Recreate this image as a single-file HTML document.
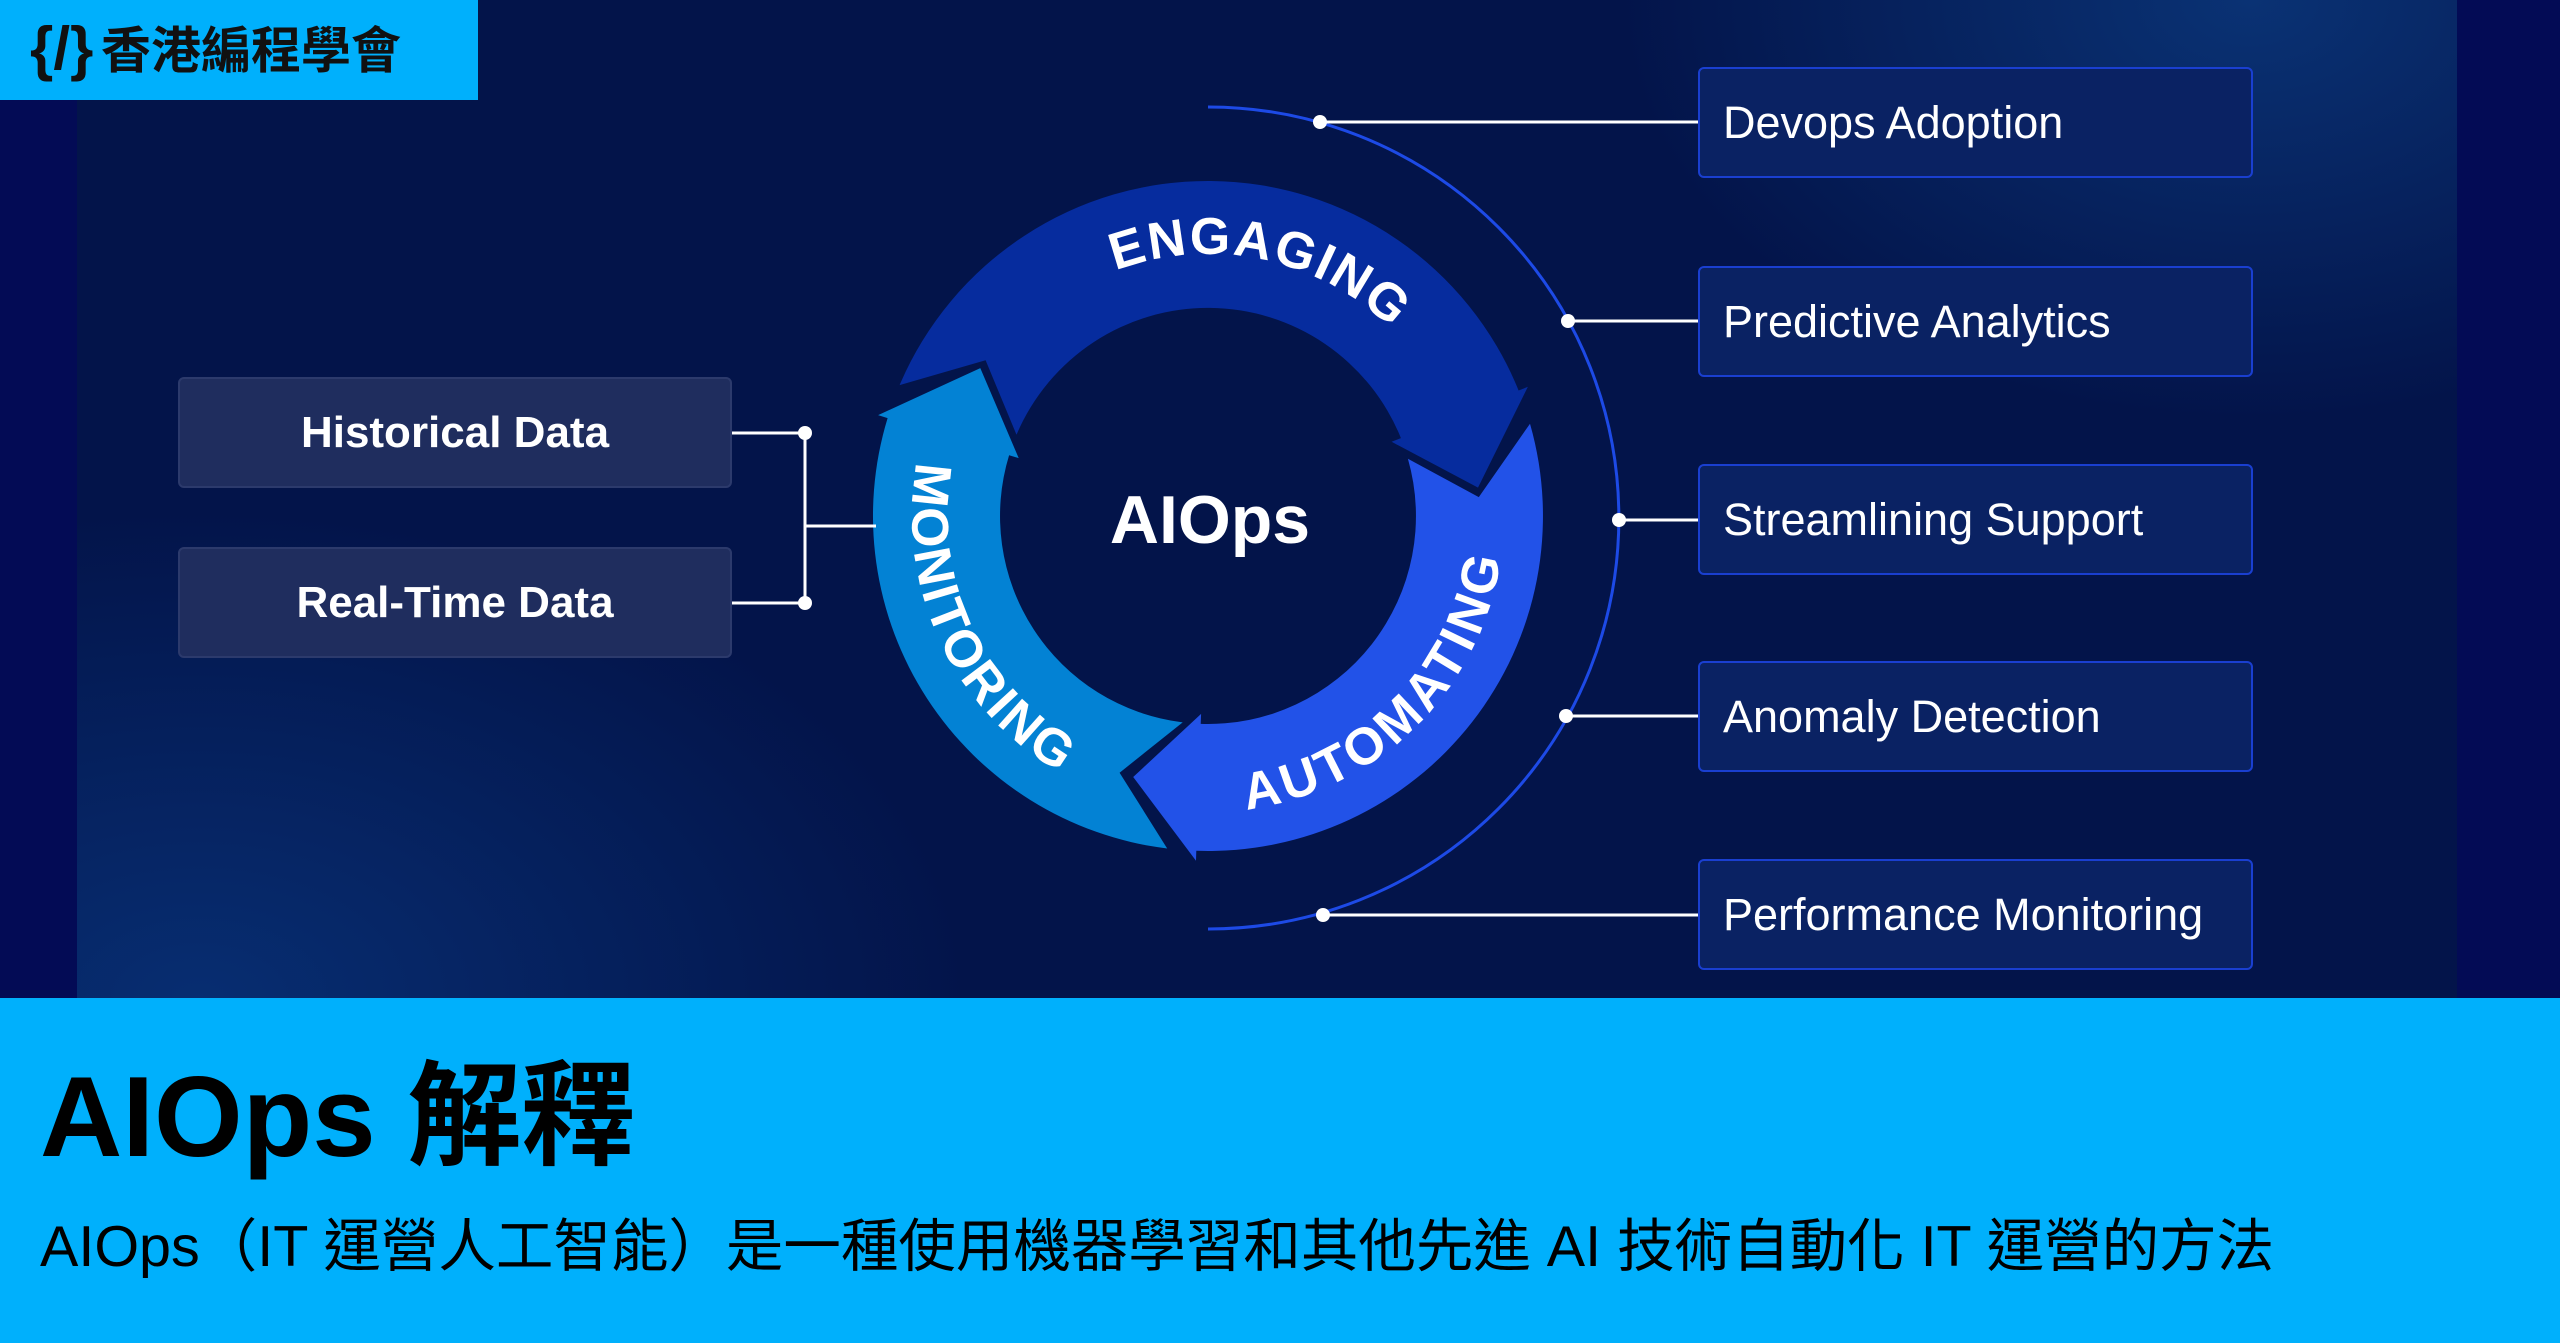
<!DOCTYPE html>
<html><head><meta charset="utf-8"><style>
html,body{margin:0;padding:0;}
body{width:2560px;height:1343px;position:relative;overflow:hidden;background:#03124a;font-family:"Liberation Sans","Noto Sans CJK TC",sans-serif;}
#main{position:absolute;left:0;top:0;width:2560px;height:998px;
background:
radial-gradient(ellipse 900px 600px at 2250px 0px, rgba(12,60,130,0.75), rgba(12,60,130,0) 70%),
radial-gradient(ellipse 1100px 700px at 200px 1000px, rgba(8,50,120,0.85), rgba(8,50,120,0) 70%),
#03144a;}
.strip{position:absolute;top:0;height:998px;background:#030b55;}
.lbox{position:absolute;left:178px;width:554px;height:111px;background:#1f2d5e;border:2px solid #2c3a6c;border-radius:6px;box-sizing:border-box;color:#fff;font-weight:bold;font-size:44px;text-align:center;line-height:107px;}
.rbox{position:absolute;left:1698px;width:555px;height:111px;background:#0a2263;border:2px solid #1a3fd0;border-radius:6px;box-sizing:border-box;color:#fff;font-size:45px;line-height:107px;padding-left:23px;}
#band{position:absolute;left:0;top:998px;width:2560px;height:345px;background:#00b0fc;}
</style></head><body>
<div id="main"></div>
<div class="strip" style="left:0;width:77px"></div>
<div class="strip" style="left:2457px;width:103px"></div>

<svg id="svg" width="2560" height="998" style="position:absolute;left:0;top:0">
<g id="rings"></g>
<g stroke="#fff" stroke-width="3" fill="none">
<path d="M732 433 H805 V603 H732 M805 526 H876"/>
<path d="M1320 122 H1698 M1568 321 H1698 M1619 520 H1698 M1566 716 H1698 M1323 915 H1698"/>
</g>
<g fill="#fff">
<circle cx="805" cy="433" r="7"/><circle cx="805" cy="603" r="7"/>
<circle cx="1320" cy="122" r="7"/><circle cx="1568" cy="321" r="7"/><circle cx="1619" cy="520" r="7"/><circle cx="1566" cy="716" r="7"/><circle cx="1323" cy="915" r="7"/>
</g>
<text x="1210" y="543" fill="#fff" font-family="Liberation Sans" font-weight="bold" font-size="68" text-anchor="middle">AIOps</text>
</svg>

<div class="lbox" style="top:377px">Historical Data</div>
<div class="lbox" style="top:547px">Real-Time Data</div>
<div class="rbox" style="top:67px">Devops Adoption</div>
<div class="rbox" style="top:266px">Predictive Analytics</div>
<div class="rbox" style="top:464px">Streamlining Support</div>
<div class="rbox" style="top:661px">Anomaly Detection</div>
<div class="rbox" style="top:859px">Performance Monitoring</div>

<div style="position:absolute;left:0;top:0;width:478px;height:100px;background:#00b0fc;"></div>
<div style="position:absolute;left:30px;top:14px;font-family:'Liberation Sans',sans-serif;font-weight:bold;font-size:60px;line-height:70px;color:#111;">{/}</div>
<div style="position:absolute;left:101px;top:22px;font-family:'Liberation Sans','Noto Sans CJK TC',sans-serif;font-weight:bold;font-size:50px;line-height:58px;color:#111;">香港編程學會</div>

<div id="band"></div>
<div style="position:absolute;left:40px;top:1048px;font-weight:bold;font-size:114px;line-height:140px;color:#000;white-space:nowrap;">AIOps 解釋</div>
<div style="position:absolute;left:40px;top:1212px;font-size:57.5px;line-height:70px;color:#000;white-space:nowrap;">AIOps（IT 運營人工智能）是一種使用機器學習和其他先進 AI 技術自動化 IT 運營的方法</div>

<script>
var cx=1208,cy=516,ri=208,ro=335,rm=(ri+ro)/2;
function P(a,r){var t=a*Math.PI/180;return [(cx+r*Math.sin(t)).toFixed(1),(cy-r*Math.cos(t)).toFixed(1)];}
function arr(T,H,tip,col){
  var o0=P(T,ro),o1=P(H,ro),i1=P(H,ri),i0=P(T,ri);
  var large=((H-T+360)%360)>180?1:0;
  var d='M'+o0+' A'+ro+' '+ro+' 0 '+large+' 1 '+o1+
   ' L'+P(H,ro+10)+' L'+P(tip,rm)+' L'+P(H,ri-10)+' L'+i1+
   ' A'+ri+' '+ri+' 0 '+large+' 0 '+i0+' L'+P(T+12,rm)+' Z';
  return '<path d="'+d+'" fill="'+col+'"/>';
}
function arc(a0,a1,r,cw,id){
  var span=Math.abs(a1-a0);
  return '<path id="'+id+'" d="M'+P(a0,r)+' A'+r+' '+r+' 0 '+(span>180?1:0)+' '+(cw?1:0)+' '+P(a1,r)+'" fill="none"/>';
}
var s='';
s+='<path d="M'+P(0,411)+' A411 411 0 0 1 '+P(180,411)+'" transform="translate(0,2)" fill="none" stroke="#1d4ae6" stroke-width="3"/>';
s+=arr(-67,68,84,'#062c9e');
s+=arr(74,182,196,'#2252e8');
s+=arr(187,287,303,'#0382d4');
s+='<defs>'+arc(-60,84,262,true,'pe')+arc(210,60,296,false,'pa')+arc(320,170,296,false,'pm')+'</defs>';
var ts='fill="#fff" font-family="Liberation Sans" font-weight="bold" font-size="52"';
s+='<text '+ts+' letter-spacing="2"><textPath href="#pe" startOffset="50%" text-anchor="middle">ENGAGING</textPath></text>';
s+='<text '+ts+' letter-spacing="4"><textPath href="#pa" startOffset="50%" text-anchor="middle">AUTOMATING</textPath></text>';
s+='<text '+ts+' letter-spacing="3"><textPath href="#pm" startOffset="50%" text-anchor="middle">MONITORING</textPath></text>';
document.getElementById('rings').innerHTML=s;
</script>
</body></html>
